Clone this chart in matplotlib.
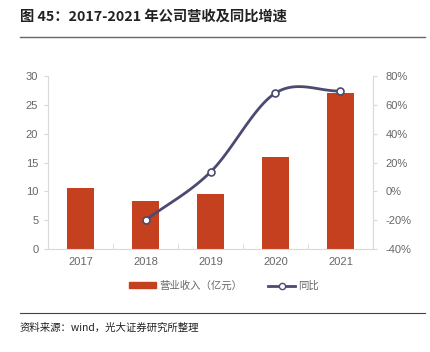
import numpy as np
import matplotlib.pyplot as plt
from matplotlib.lines import Line2D
from matplotlib.patches import Patch
from matplotlib.ticker import FuncFormatter

plt.rcParams['font.family'] = ['Noto Sans CJK SC', 'DejaVu Sans']

years = ['2017', '2018', '2019', '2020', '2021']
revenue = [10.6, 8.4, 9.5, 16.0, 27.0]
growth_years = ['2018', '2019', '2020', '2021']
growth = [-20.0, 13.4, 68.2, 69.6]

BAR_COLOR = '#C4401F'
LINE_COLOR = '#4B4A72'
TICK_COLOR = '#666666'
AXIS_COLOR = '#D9D9D9'
NUM_FONT = ['Liberation Sans', 'DejaVu Sans']


def catmull_rom(xs, ys, n=40):
    xs = np.asarray(xs, float)
    ys = np.asarray(ys, float)
    px = np.concatenate([[2 * xs[0] - xs[1]], xs, [2 * xs[-1] - xs[-2]]])
    py = np.concatenate([[2 * ys[0] - ys[1]], ys, [2 * ys[-1] - ys[-2]]])
    out_x, out_y = [], []
    for i in range(1, len(px) - 2):
        t = np.linspace(0, 1, n)
        for p, out in ((px, out_x), (py, out_y)):
            p0, p1, p2, p3 = p[i - 1], p[i], p[i + 1], p[i + 2]
            out.extend(0.5 * ((2 * p1) + (-p0 + p2) * t
                              + (2 * p0 - 5 * p1 + 4 * p2 - p3) * t ** 2
                              + (-p0 + 3 * p1 - 3 * p2 + p3) * t ** 3))
    return np.array(out_x), np.array(out_y)


fig = plt.figure(figsize=(4.31, 3.52), dpi=100)
ax = fig.add_axes([0.1114, 0.2926, 0.754, 0.4915])
ax2 = ax.twinx()

x = np.arange(len(years))
ax.bar(x, revenue, width=0.42, color=BAR_COLOR, zorder=2)
ax.set_xlim(-0.5, len(years) - 0.5)
ax.set_ylim(0, 30)
ax.set_yticks(np.arange(0, 31, 5))
ax.set_xticks(x)
ax.set_xticklabels(years)
ax.set_xticks(np.arange(-0.5, len(years)), minor=True)
ax.tick_params(axis='x', which='major', length=0, colors=TICK_COLOR, labelsize=8, pad=6)
ax.tick_params(axis='x', which='minor', length=4, color=AXIS_COLOR, direction='in')
ax.tick_params(axis='y', length=3, color=AXIS_COLOR, colors=TICK_COLOR, labelsize=8, pad=4)
for s in ['top', 'right']:
    ax.spines[s].set_visible(False)
for s in ['left', 'bottom']:
    ax.spines[s].set_color(AXIS_COLOR)

gx = np.array([years.index(y) for y in growth_years])
sx, sy = catmull_rom(gx, growth)
ax2.plot(sx, sy, color=LINE_COLOR, lw=2, zorder=3)
ax2.plot(gx, growth, 'o', ms=5, mfc='white', mec=LINE_COLOR, mew=1.2, zorder=4)
ax2.set_ylim(-40, 80)
ax2.set_yticks(np.arange(-40, 81, 20))
ax2.yaxis.set_major_formatter(FuncFormatter(lambda v, p: f'{v:.0f}%'))
ax2.tick_params(axis='y', length=3, color=AXIS_COLOR, colors=TICK_COLOR, labelsize=8, pad=6)
for s in ['top', 'left', 'bottom']:
    ax2.spines[s].set_visible(False)
ax2.spines['right'].set_color(AXIS_COLOR)

for lab in ax.get_xticklabels() + ax.get_yticklabels() + ax2.get_yticklabels():
    lab.set_family(NUM_FONT)

handles = [Patch(color=BAR_COLOR, label='营业收入（亿元）'),
           Line2D([], [], color=LINE_COLOR, lw=2, marker='o', ms=4.5,
                  mfc='white', mec=LINE_COLOR, label='同比')]
fig.legend(handles=handles, loc='center', bbox_to_anchor=(0.52, 0.188), ncol=2,
           frameon=False, fontsize=7.5, labelcolor=TICK_COLOR,
           handlelength=2.6, handleheight=0.5, columnspacing=2.5, handletextpad=0.3)

fig.text(0.046, 0.952, '图 45：2017-2021 年公司营收及同比增速', fontsize=10.3,
         fontweight='bold', va='center', ha='left', color='#222222')
fig.add_artist(Line2D([0.046, 0.986], [0.895, 0.895], color='#666666', lw=1))
fig.add_artist(Line2D([0.046, 0.986], [0.111, 0.111], color='#444444', lw=0.8))
fig.text(0.046, 0.068, '资料来源：wind，光大证券研究所整理', fontsize=7.5,
         va='center', ha='left', color='#222222')

fig.savefig('out.png', dpi=100, facecolor='white')
